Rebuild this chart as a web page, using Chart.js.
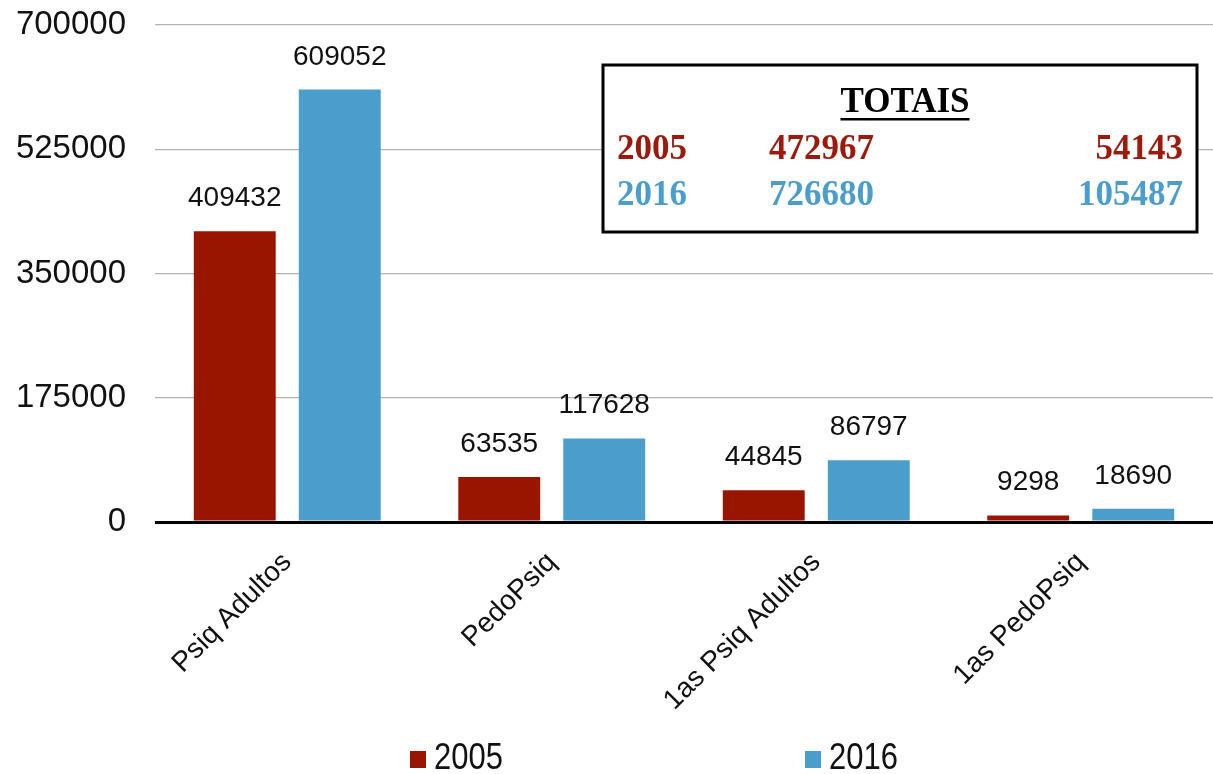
<!DOCTYPE html>
<html><head><meta charset="utf-8">
<script src="https://cdn.jsdelivr.net/npm/chart.js@4/dist/chart.umd.min.js"></script>
<style>html,body{margin:0;padding:0;background:#fff}#wrap{width:1213px;height:774px}</style>
</head><body><div id="wrap"><canvas id="c" width="1213" height="774"></canvas></div>
<script>
const categories = ['Psiq Adultos', 'PedoPsiq', '1as Psiq Adultos', '1as PedoPsiq'];
const seriesNames = ['2005', '2016'];
const values2005 = [409432, 63535, 44845, 9298];
const values2016 = [609052, 117628, 86797, 18690];
const yTicks = [0, 175000, 350000, 525000, 700000];
const totalsTitle = 'TOTAIS';
const totals2005 = [472967, 54143];
const totals2016 = [726680, 105487];

const barColors = ['#981500', '#4B9DCB'];
const totalsColors = ['#9C1A0C', '#4B9DCB'];
const SANS = "'Liberation Sans', Arial, sans-serif";
const SERIF = "'Liberation Serif', 'Times New Roman', serif";

const valueLabels = {
  id: 'valueLabels',
  afterDatasetsDraw(chart) {
    const ctx = chart.ctx;
    ctx.save();
    ctx.font = '28px ' + SANS;
    ctx.fillStyle = '#111';
    ctx.textAlign = 'center';
    ctx.textBaseline = 'alphabetic';
    chart.data.datasets.forEach((ds, i) => {
      const meta = chart.getDatasetMeta(i);
      meta.data.forEach((bar, j) => {
        ctx.fillText(String(ds.data[j]), bar.x, bar.y - 25);
      });
    });
    ctx.restore();
  }
};

const totalsBox = {
  id: 'totalsBox',
  afterDraw(chart) {
    const ctx = chart.ctx;
    ctx.save();
    ctx.fillStyle = '#fff';
    ctx.fillRect(603, 65, 594, 167);
    ctx.strokeStyle = '#000';
    ctx.lineWidth = 3;
    ctx.strokeRect(603, 65, 594, 167);
    ctx.font = 'bold 35px ' + SERIF;
    ctx.textBaseline = 'middle';
    ctx.fillStyle = '#000';
    ctx.textAlign = 'center';
    ctx.fillText(totalsTitle, 905, 103);
    const w = ctx.measureText(totalsTitle).width;
    ctx.fillRect(905 - w / 2, 118, w, 2.5);
    const rows = [[seriesNames[0], totals2005, totalsColors[0], 150], [seriesNames[1], totals2016, totalsColors[1], 196]];
    rows.forEach(([name, vals, col, y]) => {
      ctx.fillStyle = col;
      ctx.textAlign = 'left';
      ctx.fillText(name, 617, y);
      ctx.fillText(String(vals[0]), 769, y);
      ctx.textAlign = 'right';
      ctx.fillText(String(vals[1]), 1183, y);
    });
    ctx.restore();
  }
};

const bottomLegend = {
  id: 'bottomLegend',
  afterDraw(chart) {
    const ctx = chart.ctx;
    const xs = [410, 805];
    ctx.save();
    ctx.font = '36px ' + SANS;
    ctx.textBaseline = 'middle';
    ctx.textAlign = 'left';
    chart.data.datasets.forEach((ds, i) => {
      ctx.fillStyle = ds.backgroundColor;
      ctx.fillRect(xs[i], 751, 16, 17);
      ctx.save();
      ctx.translate(xs[i] + 24, 759);
      ctx.scale(0.86, 1);
      ctx.fillStyle = '#111';
      ctx.fillText(ds.label, 0, 0);
      ctx.restore();
    });
    ctx.restore();
  }
};

new Chart(document.getElementById('c'), {
  type: 'bar',
  data: {
    labels: categories,
    datasets: [
      { label: seriesNames[0], data: values2005, backgroundColor: barColors[0], borderWidth: 0,
        categoryPercentage: 0.794, barPercentage: 0.78 },
      { label: seriesNames[1], data: values2016, backgroundColor: barColors[1], borderWidth: 0,
        categoryPercentage: 0.794, barPercentage: 0.78 }
    ]
  },
  options: {
    responsive: false,
    animation: false,
    devicePixelRatio: 1,
    layout: { padding: { top: 25, left: 0, right: 0, bottom: 0 } },
    plugins: { legend: { display: false }, tooltip: { enabled: false } },
    scales: {
      x: {
        grid: { display: false },
        border: { display: false },
        ticks: { font: { family: SANS, size: 28 }, color: '#111', minRotation: 45, maxRotation: 45, padding: 16 },
        afterFit(s) { s.height = 774 - 522; }
      },
      y: {
        min: 0, max: 700000,
        afterBuildTicks(s) { s.ticks = yTicks.map(v => ({ value: v })); },
        ticks: { font: { family: SANS, size: 33 }, color: '#111', padding: 29, callback: v => String(v) },
        grid: {
          drawTicks: false,
          color: c => (c.tick && c.tick.value === 0) ? '#000' : '#b3b3b3',
          lineWidth: c => (c.tick && c.tick.value === 0) ? 3 : 1.2
        },
        border: { display: false },
        afterFit(s) { s.width = 155; s.paddingTop = 0; s.paddingBottom = 0; }
      }
    }
  },
  plugins: [valueLabels, totalsBox, bottomLegend]
});
</script></body></html>
